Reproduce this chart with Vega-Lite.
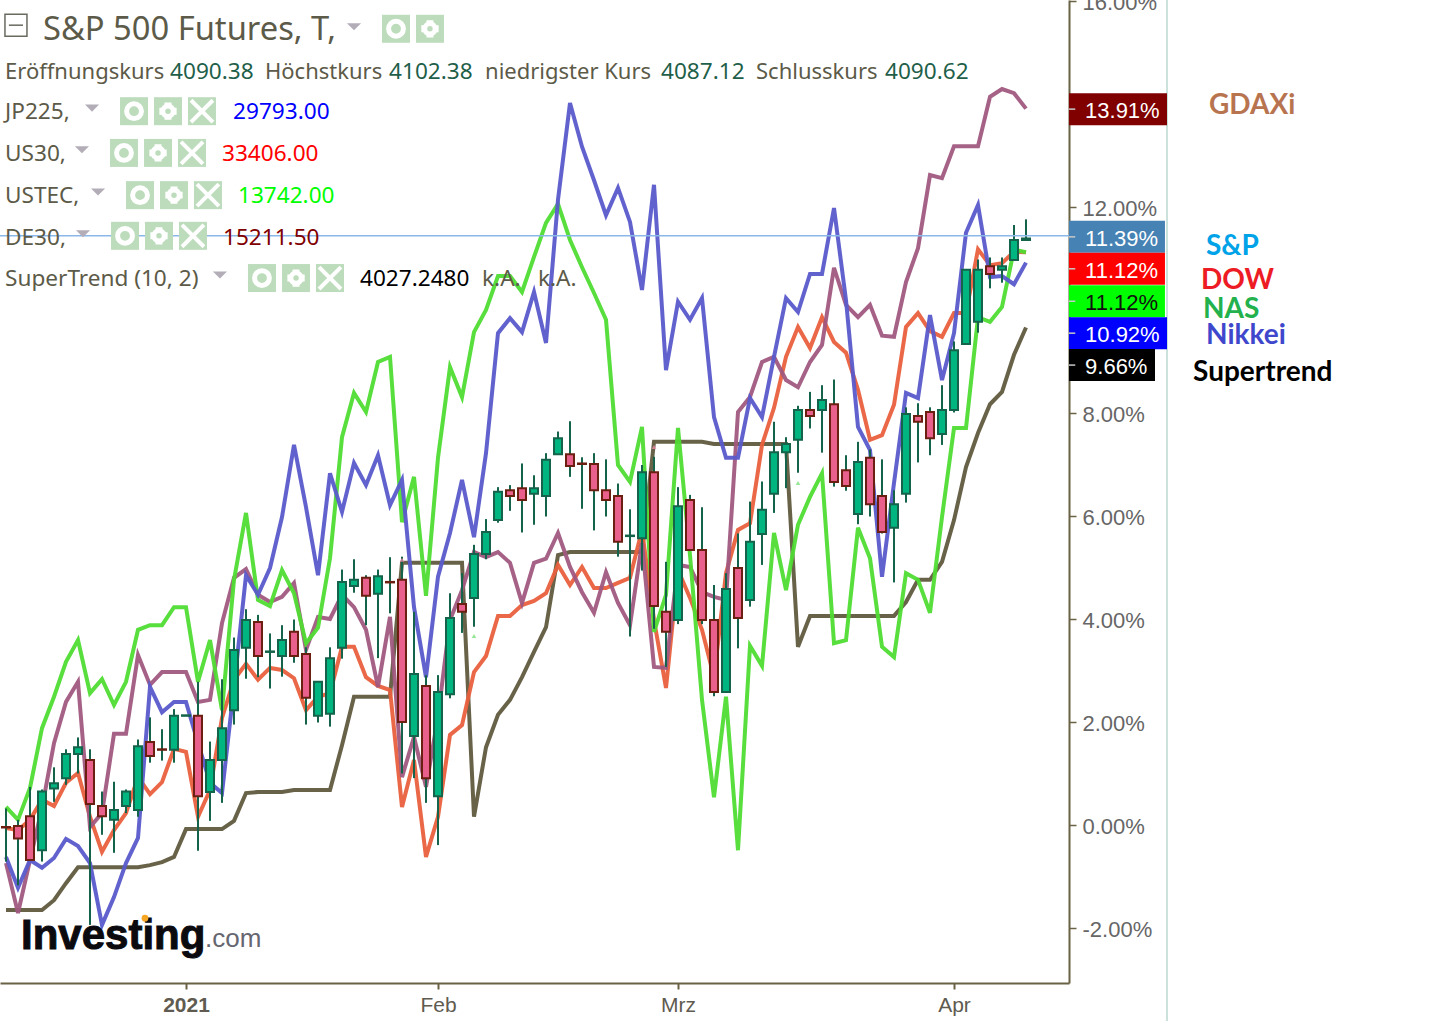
{
  "$schema": "https://vega.github.io/schema/vega-lite/v6.json",
  "width": 1069,
  "height": 983,
  "autosize": {"type": "none"},
  "padding": {"left": 0, "top": 0, "right": 378, "bottom": 38},
  "background": "white",
  "config": {"view": {"stroke": null}, "axis": {"title": null, "grid": false}},
  "datasets": {
    "bars": [
      {"i":0,"open":-0.04,"high":0.32,"low":-0.71,"close":-0.05,"nas":0.35,"nikkei":-0.62,"dax":-0.74,"dow":-0.06,"st":-1.65},
      {"i":1,"open":-0.02,"high":0.10,"low":-1.17,"close":-0.26,"nas":0.10,"nikkei":-1.22,"dax":-1.71,"dow":-0.10,"st":-1.65},
      {"i":2,"open":0.17,"high":0.74,"low":-0.68,"close":-0.68,"nas":0.72,"nikkei":-0.68,"dax":-0.68,"dow":0.10,"st":-1.65},
      {"i":3,"open":-0.49,"high":0.69,"low":-0.71,"close":0.65,"nas":1.88,"nikkei":-0.83,"dax":0.33,"dow":0.49,"st":-1.65},
      {"i":4,"open":0.71,"high":1.12,"low":0.45,"close":0.81,"nas":2.49,"nikkei":-0.64,"dax":1.59,"dow":0.37,"st":-1.46},
      {"i":5,"open":0.91,"high":1.47,"low":0.78,"close":1.38,"nas":3.17,"nikkei":-0.27,"dax":2.39,"dow":0.82,"st":-1.13},
      {"i":6,"open":1.38,"high":1.70,"low":1.00,"close":1.51,"nas":3.59,"nikkei":-0.41,"dax":2.78,"dow":1.01,"st":-0.82},
      {"i":7,"open":1.26,"high":1.47,"low":-1.94,"close":0.41,"nas":2.56,"nikkei":-0.74,"dax":-0.04,"dow":0.16,"st":-0.82},
      {"i":8,"open":0.37,"high":0.65,"low":-0.19,"close":0.17,"nas":2.83,"nikkei":-1.94,"dax":0.23,"dow":-0.52,"st":-0.82},
      {"i":9,"open":0.10,"high":0.84,"low":-0.54,"close":0.29,"nas":2.33,"nikkei":-1.40,"dax":1.77,"dow":-0.10,"st":-0.82},
      {"i":10,"open":0.37,"high":0.69,"low":0.23,"close":0.65,"nas":2.78,"nikkei":-0.74,"dax":1.77,"dow":0.23,"st":-0.82},
      {"i":11,"open":0.29,"high":1.66,"low":0.16,"close":1.53,"nas":3.79,"nikkei":-0.25,"dax":3.30,"dow":0.93,"st":-0.82},
      {"i":12,"open":1.61,"high":2.09,"low":1.21,"close":1.34,"nas":3.88,"nikkei":2.68,"dax":2.72,"dow":0.60,"st":-0.78},
      {"i":13,"open":1.47,"high":1.86,"low":1.25,"close":1.46,"nas":3.88,"nikkei":2.19,"dax":2.97,"dow":0.83,"st":-0.72},
      {"i":14,"open":1.46,"high":2.25,"low":1.21,"close":2.12,"nas":4.23,"nikkei":2.39,"dax":2.97,"dow":1.48,"st":-0.62},
      {"i":15,"open":2.12,"high":2.13,"low":2.12,"close":2.13,"nas":4.23,"nikkei":2.39,"dax":2.97,"dow":1.42,"st":-0.08},
      {"i":16,"open":2.12,"high":2.78,"low":-0.50,"close":0.56,"nas":2.78,"nikkei":1.59,"dax":2.39,"dow":0.16,"st":-0.08},
      {"i":17,"open":0.64,"high":1.62,"low":0.08,"close":1.26,"nas":3.59,"nikkei":0.82,"dax":2.43,"dow":0.68,"st":-0.08},
      {"i":18,"open":1.26,"high":2.83,"low":0.43,"close":1.88,"nas":2.23,"nikkei":0.62,"dax":3.92,"dow":2.08,"st":-0.08},
      {"i":19,"open":2.23,"high":3.64,"low":1.95,"close":3.40,"nas":4.76,"nikkei":2.68,"dax":4.80,"dow":2.82,"st":0.08},
      {"i":20,"open":3.44,"high":4.19,"low":2.84,"close":3.98,"nas":6.06,"nikkei":4.85,"dax":4.97,"dow":3.13,"st":0.62},
      {"i":21,"open":3.94,"high":4.08,"low":2.87,"close":3.28,"nas":4.37,"nikkei":4.47,"dax":4.47,"dow":2.82,"st":0.64},
      {"i":22,"open":3.36,"high":3.72,"low":2.65,"close":3.37,"nas":4.25,"nikkei":4.99,"dax":4.33,"dow":3.05,"st":0.64},
      {"i":23,"open":3.28,"high":3.88,"low":2.88,"close":3.59,"nas":4.95,"nikkei":5.98,"dax":4.43,"dow":3.01,"st":0.64},
      {"i":24,"open":3.75,"high":3.99,"low":3.15,"close":3.28,"nas":4.50,"nikkei":7.38,"dax":4.70,"dow":2.85,"st":0.68},
      {"i":25,"open":3.32,"high":3.45,"low":1.95,"close":2.47,"nas":3.53,"nikkei":6.17,"dax":3.40,"dow":2.23,"st":0.68},
      {"i":26,"open":2.12,"high":2.78,"low":1.99,"close":2.78,"nas":3.83,"nikkei":4.85,"dax":4.04,"dow":2.49,"st":0.68},
      {"i":27,"open":2.16,"high":3.45,"low":1.91,"close":3.24,"nas":5.18,"nikkei":6.83,"dax":4.00,"dow":2.56,"st":0.68},
      {"i":28,"open":3.44,"high":4.96,"low":3.23,"close":4.72,"nas":7.53,"nikkei":6.08,"dax":4.47,"dow":3.46,"st":1.55},
      {"i":29,"open":4.64,"high":5.16,"low":4.51,"close":4.76,"nas":8.39,"nikkei":7.03,"dax":4.23,"dow":3.46,"st":2.49},
      {"i":30,"open":4.80,"high":4.85,"low":3.88,"close":4.45,"nas":8.02,"nikkei":6.60,"dax":3.79,"dow":2.87,"st":2.49},
      {"i":31,"open":4.49,"high":4.96,"low":3.24,"close":4.83,"nas":8.99,"nikkei":7.18,"dax":2.68,"dow":2.70,"st":2.49},
      {"i":32,"open":4.72,"high":5.20,"low":4.11,"close":4.71,"nas":9.09,"nikkei":6.21,"dax":4.04,"dow":2.62,"st":2.49},
      {"i":33,"open":4.76,"high":5.21,"low":1.00,"close":2.00,"nas":5.88,"nikkei":6.70,"dax":0.93,"dow":0.35,"st":5.09},
      {"i":34,"open":1.73,"high":4.14,"low":0.91,"close":2.93,"nas":6.76,"nikkei":4.23,"dax":1.71,"dow":1.26,"st":5.09},
      {"i":35,"open":2.70,"high":2.91,"low":0.43,"close":0.91,"nas":4.45,"nikkei":2.87,"dax":0.74,"dow":-0.62,"st":5.09},
      {"i":36,"open":0.56,"high":2.91,"low":-0.39,"close":2.58,"nas":7.13,"nikkei":4.82,"dax":2.10,"dow":0.16,"st":5.09},
      {"i":37,"open":2.54,"high":4.50,"low":2.46,"close":4.02,"nas":8.89,"nikkei":5.67,"dax":3.98,"dow":1.75,"st":5.09},
      {"i":38,"open":4.29,"high":4.89,"low":3.73,"close":4.14,"nas":8.31,"nikkei":6.70,"dax":4.56,"dow":1.94,"st":5.09},
      {"i":39,"open":4.41,"high":5.44,"low":3.85,"close":5.26,"nas":9.57,"nikkei":5.59,"dax":5.30,"dow":2.97,"st":0.16},
      {"i":40,"open":5.26,"high":5.94,"low":5.16,"close":5.69,"nas":10.00,"nikkei":7.22,"dax":5.20,"dow":3.28,"st":1.51},
      {"i":41,"open":5.92,"high":6.56,"low":5.87,"close":6.47,"nas":10.66,"nikkei":9.55,"dax":5.30,"dow":4.06,"st":2.14},
      {"i":42,"open":6.50,"high":6.60,"low":6.10,"close":6.39,"nas":10.66,"nikkei":9.84,"dax":5.09,"dow":4.06,"st":2.43},
      {"i":43,"open":6.54,"high":7.02,"low":5.68,"close":6.31,"nas":10.35,"nikkei":9.57,"dax":4.31,"dow":4.27,"st":2.87},
      {"i":44,"open":6.43,"high":6.79,"low":5.83,"close":6.54,"nas":11.03,"nikkei":10.35,"dax":5.09,"dow":4.35,"st":3.36},
      {"i":45,"open":6.39,"high":7.22,"low":5.99,"close":7.09,"nas":11.69,"nikkei":9.36,"dax":5.17,"dow":4.50,"st":3.84},
      {"i":46,"open":7.20,"high":7.64,"low":7.20,"close":7.51,"nas":12.06,"nikkei":12.14,"dax":5.67,"dow":5.05,"st":5.24},
      {"i":47,"open":7.20,"high":7.84,"low":6.76,"close":6.97,"nas":11.36,"nikkei":14.02,"dax":5.01,"dow":4.66,"st":5.30},
      {"i":48,"open":7.02,"high":7.14,"low":6.14,"close":7.01,"nas":10.83,"nikkei":13.17,"dax":4.52,"dow":5.01,"st":5.30},
      {"i":49,"open":7.01,"high":7.22,"low":5.72,"close":6.50,"nas":10.33,"nikkei":12.52,"dax":4.12,"dow":4.60,"st":5.30},
      {"i":50,"open":6.50,"high":7.10,"low":5.99,"close":6.31,"nas":9.81,"nikkei":11.84,"dax":4.91,"dow":4.60,"st":5.30},
      {"i":51,"open":6.39,"high":6.63,"low":5.21,"close":5.50,"nas":6.99,"nikkei":12.37,"dax":4.31,"dow":4.70,"st":5.30},
      {"i":52,"open":5.61,"high":6.13,"low":3.66,"close":5.62,"nas":6.66,"nikkei":11.71,"dax":3.88,"dow":4.80,"st":5.30},
      {"i":53,"open":5.57,"high":6.99,"low":4.94,"close":6.85,"nas":7.73,"nikkei":10.39,"dax":5.48,"dow":5.73,"st":5.30},
      {"i":54,"open":6.85,"high":7.15,"low":3.81,"close":4.25,"nas":3.75,"nikkei":12.43,"dax":3.07,"dow":3.98,"st":7.44},
      {"i":55,"open":4.14,"high":5.11,"low":3.07,"close":3.75,"nas":4.47,"nikkei":8.83,"dax":3.05,"dow":2.66,"st":7.44},
      {"i":56,"open":3.98,"high":6.56,"low":3.90,"close":6.19,"nas":7.71,"nikkei":10.16,"dax":5.05,"dow":4.95,"st":7.44},
      {"i":57,"open":6.31,"high":6.41,"low":5.34,"close":5.34,"nas":5.24,"nikkei":9.81,"dax":5.01,"dow":4.41,"st":7.44},
      {"i":58,"open":5.34,"high":6.17,"low":3.90,"close":3.98,"nas":2.43,"nikkei":10.23,"dax":4.52,"dow":3.79,"st":7.44},
      {"i":59,"open":3.98,"high":4.66,"low":2.50,"close":2.58,"nas":0.54,"nikkei":7.92,"dax":4.43,"dow":2.87,"st":7.40},
      {"i":60,"open":2.58,"high":4.89,"low":2.58,"close":4.58,"nas":2.49,"nikkei":7.13,"dax":4.37,"dow":4.89,"st":7.40},
      {"i":61,"open":4.99,"high":5.66,"low":3.43,"close":4.02,"nas":-0.49,"nikkei":7.13,"dax":8.02,"dow":5.73,"st":7.40},
      {"i":62,"open":4.37,"high":6.28,"low":4.24,"close":5.50,"nas":3.48,"nikkei":8.29,"dax":8.31,"dow":5.86,"st":7.40},
      {"i":63,"open":5.65,"high":6.67,"low":5.05,"close":6.12,"nas":3.09,"nikkei":7.92,"dax":8.99,"dow":7.38,"st":7.40},
      {"i":64,"open":6.43,"high":7.83,"low":6.06,"close":7.24,"nas":5.67,"nikkei":9.09,"dax":9.09,"dow":8.10,"st":7.40},
      {"i":65,"open":7.24,"high":7.53,"low":6.54,"close":7.40,"nas":4.56,"nikkei":10.23,"dax":8.64,"dow":9.09,"st":7.40},
      {"i":66,"open":7.48,"high":8.14,"low":6.84,"close":8.06,"nas":5.83,"nikkei":9.96,"dax":8.50,"dow":9.67,"st":3.46},
      {"i":67,"open":8.06,"high":8.41,"low":7.70,"close":7.94,"nas":6.37,"nikkei":10.70,"dax":8.99,"dow":9.26,"st":4.06},
      {"i":68,"open":8.06,"high":8.54,"low":7.23,"close":8.25,"nas":6.83,"nikkei":10.70,"dax":9.32,"dow":9.86,"st":4.06},
      {"i":69,"open":8.17,"high":8.65,"low":6.57,"close":6.66,"nas":3.53,"nikkei":11.98,"dax":10.82,"dow":9.38,"st":4.06},
      {"i":70,"open":6.89,"high":7.18,"low":6.49,"close":6.58,"nas":3.59,"nikkei":10.19,"dax":10.10,"dow":9.17,"st":4.06},
      {"i":71,"open":6.04,"high":7.44,"low":5.84,"close":7.05,"nas":5.77,"nikkei":7.73,"dax":9.86,"dow":8.45,"st":4.06},
      {"i":72,"open":7.13,"high":7.29,"low":5.99,"close":6.23,"nas":5.18,"nikkei":7.28,"dax":10.10,"dow":7.48,"st":4.06},
      {"i":73,"open":6.39,"high":7.10,"low":5.66,"close":5.69,"nas":3.46,"nikkei":4.82,"dax":9.50,"dow":7.57,"st":4.06},
      {"i":74,"open":5.77,"high":6.50,"low":4.71,"close":6.23,"nas":3.26,"nikkei":6.64,"dax":9.48,"dow":8.16,"st":4.06},
      {"i":75,"open":6.43,"high":8.11,"low":6.26,"close":7.98,"nas":4.89,"nikkei":8.39,"dax":10.54,"dow":9.67,"st":4.33},
      {"i":76,"open":7.94,"high":8.19,"low":7.04,"close":7.83,"nas":4.76,"nikkei":8.29,"dax":11.20,"dow":9.94,"st":4.76},
      {"i":77,"open":8.02,"high":8.11,"low":7.18,"close":7.51,"nas":4.12,"nikkei":9.90,"dax":12.62,"dow":9.59,"st":4.76},
      {"i":78,"open":7.59,"high":8.54,"low":7.38,"close":8.06,"nas":5.98,"nikkei":8.64,"dax":12.56,"dow":9.48,"st":5.11},
      {"i":79,"open":8.06,"high":9.39,"low":8.01,"close":9.22,"nas":7.71,"nikkei":9.55,"dax":13.18,"dow":9.94,"st":5.92},
      {"i":80,"open":9.34,"high":10.78,"low":9.34,"close":10.78,"nas":7.71,"nikkei":11.50,"dax":13.18,"dow":9.94,"st":6.95},
      {"i":81,"open":9.77,"high":10.98,"low":9.56,"close":10.78,"nas":9.86,"nikkei":12.04,"dax":13.18,"dow":11.18,"st":7.61},
      {"i":82,"open":10.85,"high":11.02,"low":10.42,"close":10.70,"nas":9.77,"nikkei":10.64,"dax":14.14,"dow":10.87,"st":8.17},
      {"i":83,"open":10.78,"high":11.02,"low":10.53,"close":10.85,"nas":10.06,"nikkei":10.66,"dax":14.29,"dow":10.91,"st":8.41},
      {"i":84,"open":10.97,"high":11.65,"low":10.97,"close":11.36,"nas":11.17,"nikkei":10.50,"dax":14.21,"dow":11.13,"st":9.13},
      {"i":85,"open":11.36,"high":11.76,"low":11.34,"close":11.39,"nas":11.12,"nikkei":10.92,"dax":13.91,"dow":11.12,"st":9.66}
    ],
    "legend_rows": [
      {"text":"Eröffnungskurs","tone":"caption","i":-0.08,"pct":14.66},
      {"text":"4090.38","tone":"ohlc","i":13.67,"pct":14.66},
      {"text":"Höchstkurs","tone":"caption","i":21.58,"pct":14.66},
      {"text":"4102.38","tone":"ohlc","i":31.92,"pct":14.66},
      {"text":"niedrigster Kurs","tone":"caption","i":39.92,"pct":14.66},
      {"text":"4087.12","tone":"ohlc","i":54.58,"pct":14.66},
      {"text":"Schlusskurs","tone":"caption","i":62.5,"pct":14.66},
      {"text":"4090.62","tone":"ohlc","i":73.25,"pct":14.66},
      {"text":"JP225,","tone":"caption","i":-0.08,"pct":13.88},
      {"text":"29793.00","tone":"JP225","i":18.92,"pct":13.88},
      {"text":"US30,","tone":"caption","i":-0.08,"pct":13.07},
      {"text":"33406.00","tone":"US30","i":18,"pct":13.07},
      {"text":"USTEC,","tone":"caption","i":-0.08,"pct":12.25},
      {"text":"13742.00","tone":"USTEC","i":19.33,"pct":12.25},
      {"text":"DE30,","tone":"caption","i":-0.08,"pct":11.44},
      {"text":"15211.50","tone":"DE30","i":18.08,"pct":11.44},
      {"text":"SuperTrend (10, 2)","tone":"caption","i":-0.08,"pct":10.64},
      {"text":"4027.2480","tone":"SuperTrend","i":29.5,"pct":10.64},
      {"text":"k.A.","tone":"caption","i":39.67,"pct":10.64},
      {"text":"k.A.","tone":"caption","i":44.33,"pct":10.64}
    ],
    "icons": [
      {"kind":"eye","i":32.5,"pct":15.46},{"kind":"gear","i":35.33,"pct":15.46},
      {"kind":"eye","i":10.67,"pct":13.86},{"kind":"gear","i":13.5,"pct":13.86},{"kind":"close","i":16.33,"pct":13.86},
      {"kind":"eye","i":9.83,"pct":13.05},{"kind":"gear","i":12.67,"pct":13.05},{"kind":"close","i":15.5,"pct":13.05},
      {"kind":"eye","i":11.17,"pct":12.23},{"kind":"gear","i":14,"pct":12.23},{"kind":"close","i":16.83,"pct":12.23},
      {"kind":"eye","i":9.92,"pct":11.44},{"kind":"gear","i":12.75,"pct":11.44},{"kind":"close","i":15.58,"pct":11.44},
      {"kind":"eye","i":21.33,"pct":10.62},{"kind":"gear","i":24.17,"pct":10.62},{"kind":"close","i":27,"pct":10.62}
    ],
    "carets": [
      {"i":29,"pct":15.5},{"i":7.17,"pct":13.92},{"i":6.33,"pct":13.11},{"i":7.67,"pct":12.29},{"i":6.42,"pct":11.48},{"i":17.83,"pct":10.68}
    ],
    "signals": [
      {"i":33,"pct":5.15,"dir":"sell"},{"i":54,"pct":7.34,"dir":"sell"},{"i":39,"pct":3.67,"dir":"buy"},{"i":66,"pct":6.64,"dir":"buy"}
    ],
    "badges": [
      {"name":"GDAXi","value":"13.91%","level":13.9,"start":88.58,"tick_at":88.84,"label_at":89.92,"end":96.75},
      {"name":"S&P","value":"11.39%","level":11.42,"start":88.58,"tick_at":88.84,"label_at":89.92,"end":96.58},
      {"name":"DOW","value":"11.12%","level":10.8,"start":88.58,"tick_at":88.84,"label_at":89.92,"end":96.58},
      {"name":"NAS","value":"11.12%","level":10.17,"start":88.58,"tick_at":88.84,"label_at":89.92,"end":96.58},
      {"name":"Nikkei","value":"10.92%","level":9.55,"start":88.58,"tick_at":88.84,"label_at":89.92,"end":96.75},
      {"name":"Supertrend","value":"9.66%","level":8.93,"start":88.58,"tick_at":88.84,"label_at":89.92,"end":95.75}
    ],
    "names": [
      {"name":"GDAXi","i":100.25,"pct":14},
      {"name":"S&P","i":100,"pct":11.28},
      {"name":"DOW","i":99.58,"pct":10.62},
      {"name":"NAS","i":99.75,"pct":10.04},
      {"name":"Nikkei","i":100,"pct":9.55},
      {"name":"Supertrend","i":98.92,"pct":8.82}
    ]
  },
  "data": {"name": "bars"},
  "layer": [
    {
      "mark": {"type": "line", "color": "#5f5a3e", "strokeWidth": 4, "opacity": 0.95},
      "encoding": {
        "x": {
          "field": "i", "type": "quantitative",
          "scale": {"domain": [-0.5, 88.583], "nice": false, "zero": false, "padding": 0},
          "axis": {
            "values": [15, 36, 56, 79],
            "labelExpr": "datum.value == 15 ? '2021' : datum.value == 36 ? 'Feb' : datum.value == 56 ? 'Mrz' : 'Apr'",
            "labelFont": "Liberation Sans", "labelFontSize": 21, "labelColor": "#5f5b50",
            "labelFontWeight": {"condition": {"test": "datum.value == 15", "value": "bold"}, "value": "normal"},
            "labelPadding": 5, "tickColor": "#6a6244", "tickSize": 6, "tickWidth": 2,
            "domainColor": "#6a6244", "domainWidth": 2
          }
        },
        "y": {
          "field": "st", "type": "quantitative",
          "scale": {"domain": [-3.068, 16.019], "nice": false, "zero": false, "padding": 0},
          "axis": {
            "orient": "right", "values": [-2, 0, 2, 4, 6, 8, 12, 16],
            "labelExpr": "replace(format(datum.value, '.2f'), '−', '-') + '%'",
            "labelFont": "Liberation Sans", "labelFontSize": 22, "labelColor": "#666666",
            "labelPadding": 6, "labelOffset": 2, "labelBound": false, "labelFlush": false, "labelOverlap": false,
            "tickColor": "#6a6244", "tickSize": 7, "tickWidth": 1.5,
            "domainColor": "#6a6244", "domainWidth": 2
          }
        }
      }
    },
    {
      "mark": {"type": "line", "color": "#e9603d", "strokeWidth": 4, "opacity": 0.95},
      "encoding": {
        "x": {"field": "i", "type": "quantitative"},
        "y": {"field": "dow", "type": "quantitative"}
      }
    },
    {
      "mark": {"type": "line", "color": "#a0587f", "strokeWidth": 4, "opacity": 0.95},
      "encoding": {
        "x": {"field": "i", "type": "quantitative"},
        "y": {"field": "dax", "type": "quantitative"}
      }
    },
    {
      "mark": {"type": "line", "color": "#4fdc33", "strokeWidth": 4, "opacity": 0.95},
      "encoding": {
        "x": {"field": "i", "type": "quantitative"},
        "y": {"field": "nas", "type": "quantitative"}
      }
    },
    {
      "mark": {"type": "line", "color": "#5a5acb", "strokeWidth": 4, "opacity": 0.95},
      "encoding": {
        "x": {"field": "i", "type": "quantitative"},
        "y": {"field": "nikkei", "type": "quantitative"}
      }
    },
    {
      "mark": {"type": "rule", "color": "#14634a", "strokeWidth": 2},
      "encoding": {
        "x": {"field": "i", "type": "quantitative"},
        "y": {"field": "high", "type": "quantitative"},
        "y2": {"field": "low"}
      }
    },
    {
      "mark": {"type": "bar", "size": 8, "strokeWidth": 2},
      "encoding": {
        "x": {"field": "i", "type": "quantitative"},
        "y": {"field": "open", "type": "quantitative"},
        "y2": {"field": "close"},
        "fill": {"condition": {"test": "datum.close >= datum.open", "value": "#00b57f"}, "value": "#e9608c"},
        "stroke": {"condition": {"test": "datum.close >= datum.open", "value": "#14634a"}, "value": "#6b1f10"}
      }
    },
    {
      "data": {"name": "signals"},
      "mark": {"type": "point", "shape": "triangle-up", "filled": true, "size": 22, "opacity": 0.8},
      "encoding": {
        "x": {"field": "i", "type": "quantitative"},
        "y": {"field": "pct", "type": "quantitative"},
        "color": {"field": "dir", "type": "nominal", "legend": null, "scale": {"domain": ["buy", "sell"], "range": ["#7be07b", "#e88aa8"]}}
      }
    },
    {
      "data": {"values": [{"last": 11.44}]},
      "mark": {"type": "rule", "color": "#8ab8e8", "strokeWidth": 1.5},
      "encoding": {"y": {"field": "last", "type": "quantitative"}}
    },
    {
      "data": {"values": [{"edge": 96.75, "top": 16.02, "bottom": -3.81}]},
      "mark": {"type": "rule", "color": "#b9d9d0", "strokeWidth": 1.5},
      "encoding": {
        "x": {"field": "edge", "type": "quantitative"},
        "y": {"field": "top", "type": "quantitative"},
        "y2": {"field": "bottom"}
      }
    },
    {
      "data": {"name": "badges"},
      "mark": {"type": "bar", "orient": "horizontal", "size": 32},
      "encoding": {
        "x": {"field": "start", "type": "quantitative"},
        "x2": {"field": "end"},
        "y": {"field": "level", "type": "quantitative"},
        "color": {
          "field": "name", "type": "nominal", "legend": null,
          "scale": {
            "domain": ["GDAXi", "S&P", "DOW", "NAS", "Nikkei", "Supertrend"],
            "range": ["#800000", "#4682b4", "#ff0000", "#00ff00", "#0000ff", "#000000"]
          }
        }
      }
    },
    {
      "data": {"name": "badges"},
      "mark": {"type": "point", "shape": "stroke", "filled": false, "size": 40, "color": "#c8c8c8", "strokeWidth": 1.5, "opacity": 1},
      "encoding": {
        "x": {"field": "tick_at", "type": "quantitative"},
        "y": {"field": "level", "type": "quantitative"}
      }
    },
    {
      "data": {"name": "badges"},
      "mark": {"type": "text", "align": "left", "baseline": "middle", "font": "Liberation Sans", "fontSize": 22, "dy": 2},
      "encoding": {
        "x": {"field": "label_at", "type": "quantitative"},
        "y": {"field": "level", "type": "quantitative"},
        "text": {"field": "value"},
        "color": {"condition": {"test": "datum.name == 'NAS'", "value": "#111111"}, "value": "#ffffff"}
      }
    },
    {
      "data": {"name": "names"},
      "mark": {"type": "text", "align": "left", "baseline": "middle", "font": "Lato", "fontWeight": "bold", "fontSize": 28, "dy": 2.5},
      "encoding": {
        "x": {"field": "i", "type": "quantitative"},
        "y": {"field": "pct", "type": "quantitative"},
        "text": {"field": "name"},
        "color": {
          "field": "name", "type": "nominal", "legend": null,
          "scale": {
            "domain": ["GDAXi", "S&P", "DOW", "NAS", "Nikkei", "Supertrend"],
            "range": ["#b8734f", "#00a2e8", "#ed1c24", "#22b14c", "#3f48cc", "#000000"]
          }
        }
      }
    },
    {
      "data": {"values": [{"text": "S&P 500 Futures, T,", "i": 3.08, "pct": 15.48}]},
      "mark": {"type": "text", "align": "left", "baseline": "middle", "font": "Noto Sans", "fontSize": 32.7, "color": "#5c5a48", "dy": 2},
      "encoding": {
        "x": {"field": "i", "type": "quantitative"},
        "y": {"field": "pct", "type": "quantitative"},
        "text": {"field": "text"}
      }
    },
    {
      "data": {"name": "legend_rows"},
      "mark": {"type": "text", "align": "left", "baseline": "middle", "font": "Noto Sans", "dy": 2},
      "encoding": {
        "x": {"field": "i", "type": "quantitative"},
        "y": {"field": "pct", "type": "quantitative"},
        "text": {"field": "text"},
        "size": {"condition": {"test": "test(/kurs/i, datum.text)", "value": 22}, "value": 22.6},
        "color": {
          "field": "tone", "type": "nominal", "legend": null,
          "scale": {
            "domain": ["caption", "ohlc", "JP225", "US30", "USTEC", "DE30", "SuperTrend"],
            "range": ["#5c5a48", "#1f5f4a", "#0000ff", "#ff0000", "#00ff00", "#800000", "#000000"]
          }
        }
      }
    },
    {
      "data": {"name": "carets"},
      "mark": {"type": "point", "shape": "M-1,-0.5L1,-0.5L0,0.5Z", "filled": true, "size": 200, "color": "#b3adb8", "opacity": 1},
      "encoding": {
        "x": {"field": "i", "type": "quantitative"},
        "y": {"field": "pct", "type": "quantitative"}
      }
    },
    {
      "data": {"name": "icons"},
      "mark": {"type": "point", "shape": "square", "filled": true, "size": 784, "color": "#bcdcbc", "opacity": 1},
      "encoding": {
        "x": {"field": "i", "type": "quantitative"},
        "y": {"field": "pct", "type": "quantitative"}
      }
    },
    {
      "data": {"name": "icons"},
      "transform": [{"filter": "datum.kind == 'eye'"}],
      "mark": {"type": "point", "shape": "circle", "filled": false, "size": 220, "color": "#ffffff", "strokeWidth": 5, "opacity": 1},
      "encoding": {
        "x": {"field": "i", "type": "quantitative"},
        "y": {"field": "pct", "type": "quantitative"}
      }
    },
    {
      "data": {"name": "icons"},
      "transform": [{"filter": "datum.kind == 'gear'"}],
      "mark": {"type": "point", "shape": "cross", "filled": true, "size": 300, "color": "#ffffff", "opacity": 1},
      "encoding": {
        "x": {"field": "i", "type": "quantitative"},
        "y": {"field": "pct", "type": "quantitative"}
      }
    },
    {
      "data": {"name": "icons"},
      "transform": [{"filter": "datum.kind == 'gear'"}],
      "mark": {"type": "point", "shape": "circle", "filled": true, "size": 230, "color": "#ffffff", "opacity": 1},
      "encoding": {
        "x": {"field": "i", "type": "quantitative"},
        "y": {"field": "pct", "type": "quantitative"}
      }
    },
    {
      "data": {"name": "icons"},
      "transform": [{"filter": "datum.kind == 'gear'"}],
      "mark": {"type": "point", "shape": "circle", "filled": true, "size": 30, "color": "#bcdcbc", "opacity": 1},
      "encoding": {
        "x": {"field": "i", "type": "quantitative"},
        "y": {"field": "pct", "type": "quantitative"}
      }
    },
    {
      "data": {"name": "icons"},
      "transform": [{"filter": "datum.kind == 'close'"}],
      "mark": {"type": "point", "shape": "M-1,-1L1,1M1,-1L-1,1", "filled": false, "size": 480, "color": "#ffffff", "strokeWidth": 4, "opacity": 1},
      "encoding": {
        "x": {"field": "i", "type": "quantitative"},
        "y": {"field": "pct", "type": "quantitative"}
      }
    },
    {
      "data": {"values": [{"i": 0.83, "pct": 15.53}]},
      "mark": {"type": "point", "shape": "square", "filled": false, "size": 484, "color": "#6a6a60", "strokeWidth": 1.5, "opacity": 1},
      "encoding": {
        "x": {"field": "i", "type": "quantitative"},
        "y": {"field": "pct", "type": "quantitative"}
      }
    },
    {
      "data": {"values": [{"i": 0.83, "pct": 15.53}]},
      "mark": {"type": "point", "shape": "stroke", "filled": false, "size": 200, "color": "#6a6a60", "strokeWidth": 1.5, "opacity": 1},
      "encoding": {
        "x": {"field": "i", "type": "quantitative"},
        "y": {"field": "pct", "type": "quantitative"}
      }
    },
    {
      "data": {"values": [{"text": "Investing", "i": 1.25, "pct": -2.16}]},
      "mark": {"type": "text", "align": "left", "baseline": "middle", "font": "Liberation Sans", "fontWeight": "bold", "fontSize": 42, "color": "#0b0b0f", "stroke": "#0b0b0f", "strokeWidth": 1},
      "encoding": {
        "x": {"field": "i", "type": "quantitative"},
        "y": {"field": "pct", "type": "quantitative"},
        "text": {"field": "text"}
      }
    },
    {
      "data": {"values": [{"text": ".com", "i": 16.58, "pct": -2.21}]},
      "mark": {"type": "text", "align": "left", "baseline": "middle", "font": "Liberation Sans", "fontSize": 26, "color": "#666670"},
      "encoding": {
        "x": {"field": "i", "type": "quantitative"},
        "y": {"field": "pct", "type": "quantitative"},
        "text": {"field": "text"}
      }
    },
    {
      "data": {"values": [{"i": 11.58, "pct": -1.81}]},
      "mark": {"type": "point", "shape": "circle", "filled": true, "size": 45, "color": "#f5a623", "opacity": 1},
      "encoding": {
        "x": {"field": "i", "type": "quantitative"},
        "y": {"field": "pct", "type": "quantitative"}
      }
    }
  ],
  "resolve": {"scale": {"color": "independent"}}
}
